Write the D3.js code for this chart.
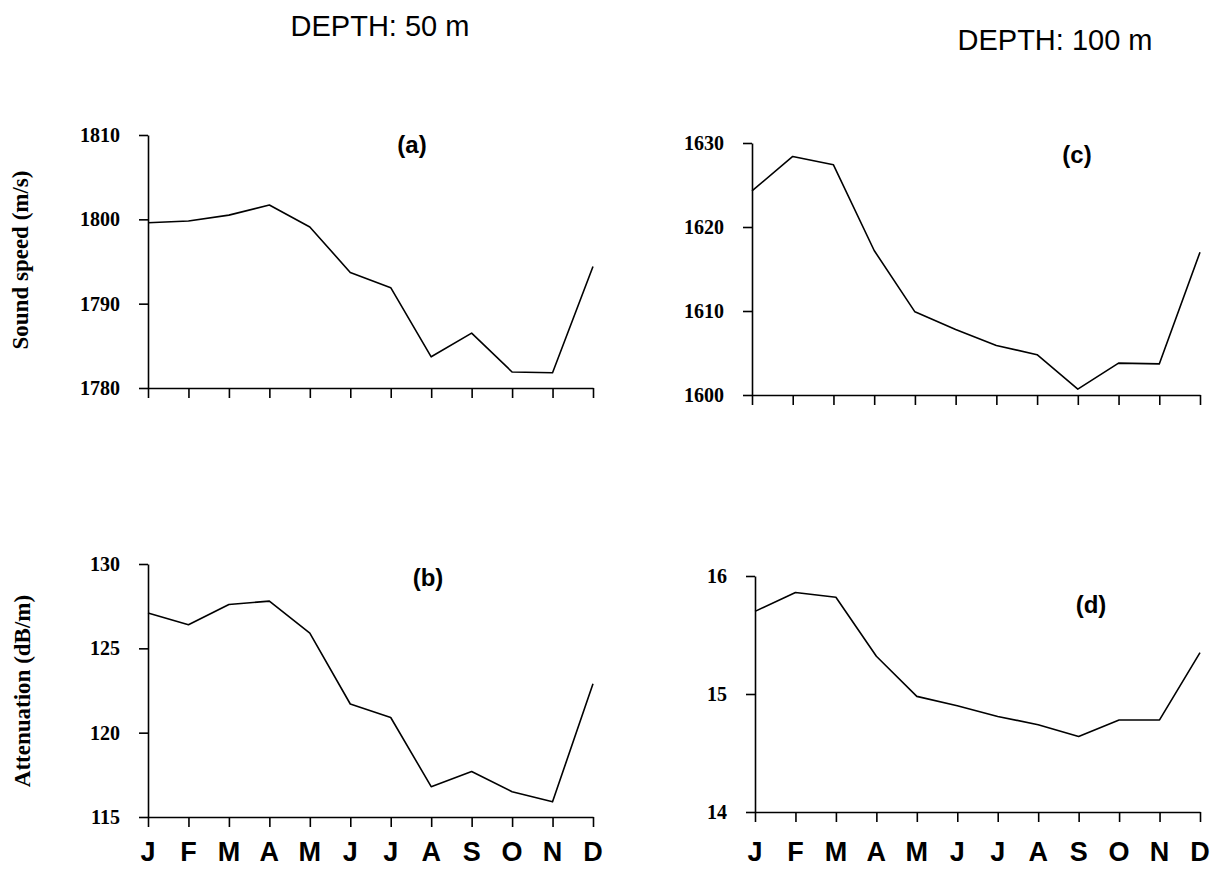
<!DOCTYPE html>
<html>
<head>
<meta charset="utf-8">
<script src="https://cdn.jsdelivr.net/npm/d3@7"></script>
<style>
  body { margin: 0; background: #fff; }
  .domain, .tick line { stroke: #000; stroke-width: 1.6; }
</style>
</head>
<body>
<svg id="chart" width="1230" height="871"></svg>
<script>
var months = ["J", "F", "M", "A", "M", "J", "J", "A", "S", "O", "N", "D"];

// depth 50 m
var speed50 = [1799.6, 1799.8, 1800.5, 1801.7, 1799.1, 1793.7, 1791.9, 1783.7, 1786.5, 1781.9, 1781.8, 1794.4];
var atten50 = [127.1, 126.4, 127.6, 127.8, 125.9, 121.7, 120.9, 116.8, 117.7, 116.5, 115.9, 122.9];
// depth 100 m
var speed100 = [1624.3, 1628.4, 1627.4, 1617.2, 1609.9, 1607.8, 1605.9, 1604.8, 1600.7, 1603.8, 1603.7, 1617.0];
var atten100 = [15.70, 15.86, 15.82, 15.32, 14.98, 14.90, 14.81, 14.74, 14.64, 14.78, 14.78, 15.35];

var speed50Ticks = [1780, 1790, 1800, 1810];
var atten50Ticks = [115, 120, 125, 130];
var speed100Ticks = [1600, 1610, 1620, 1630];
var atten100Ticks = [14, 15, 16];

var sans = "'Liberation Sans', Arial, sans-serif";
var serif = "'Liberation Serif', 'Times New Roman', serif";

var svg = d3.select("#chart");

var panels = [
	{values: speed50, ticks: speed50Ticks, left: 148, right: 593, top: 135, bottom: 388, tag: "(a)", tagX: 412, tagY: 153, months: false},
	{values: atten50, ticks: atten50Ticks, left: 148, right: 593, top: 564, bottom: 817, tag: "(b)", tagX: 428, tagY: 586, months: true},
	{values: speed100, ticks: speed100Ticks, left: 752, right: 1200, top: 143, bottom: 395, tag: "(c)", tagX: 1077, tagY: 163, months: false},
	{values: atten100, ticks: atten100Ticks, left: 755, right: 1200, top: 576, bottom: 812, tag: "(d)", tagX: 1091, tagY: 613, months: true}
];

panels.forEach(function(p){
	var x = d3.scalePoint().domain(d3.range(12)).range([p.left, p.right]);
	var y = d3.scaleLinear()
		.domain([p.ticks[0], p.ticks[p.ticks.length - 1]])
		.range([p.bottom, p.top]);

	var g = svg.append("g");

	var ya = g.append("g")
		.attr("transform", "translate(" + p.left + ",0)")
		.call(d3.axisLeft(y).tickValues(p.ticks).tickSize(9).tickSizeOuter(0).tickPadding(19).tickFormat(d3.format("d")));
	ya.selectAll(".tick text")
		.attr("font-family", serif)
		.attr("font-size", 20)
		.attr("font-weight", "bold")
		.attr("fill", "#000");

	g.append("g")
		.attr("transform", "translate(0," + p.bottom + ")")
		.call(d3.axisBottom(x).tickSize(10).tickSizeOuter(0).tickFormat(""));

	if(p.months){
		g.selectAll(".month")
			.data(months)
			.enter()
			.append("text")
			.attr("class", "month")
			.attr("x", function(d, i){ return x(i); })
			.attr("y", 861)
			.attr("text-anchor", "middle")
			.style("font-family", sans)
			.style("font-weight", "bold")
			.style("font-size", "27px")
			.text(function(d){ return d; });
	}

	var line = d3.line()
		.x(function(d, i){ return x(i); })
		.y(function(d){ return y(d); });

	g.append("path")
		.datum(p.values)
		.attr("d", line)
		.attr("fill", "none")
		.attr("stroke", "#000")
		.attr("stroke-width", 1.6)
		.attr("stroke-linejoin", "round");

	g.append("text")
		.attr("x", p.tagX)
		.attr("y", p.tagY)
		.attr("text-anchor", "middle")
		.style("font-family", sans)
		.style("font-size", "24px")
		.style("font-weight", "bold")
		.text(p.tag);
});

// depth titles
svg.append("text")
	.attr("x", 380).attr("y", 36)
	.attr("text-anchor", "middle")
	.style("font-family", sans)
	.style("font-size", "29px")
	.text("DEPTH: 50 m");
svg.append("text")
	.attr("x", 1055).attr("y", 50)
	.attr("text-anchor", "middle")
	.style("font-family", sans)
	.style("font-size", "29px")
	.text("DEPTH: 100 m");

// y axis titles
svg.append("text")
	.attr("transform", "translate(28,260) rotate(-90)")
	.attr("text-anchor", "middle")
	.style("font-family", serif)
	.style("font-size", "23px")
	.style("font-weight", "bold")
	.text("Sound speed (m/s)");
svg.append("text")
	.attr("transform", "translate(30,691) rotate(-90)")
	.attr("text-anchor", "middle")
	.style("font-family", serif)
	.style("font-size", "23px")
	.style("font-weight", "bold")
	.text("Attenuation (dB/m)");
</script>
</body>
</html>
